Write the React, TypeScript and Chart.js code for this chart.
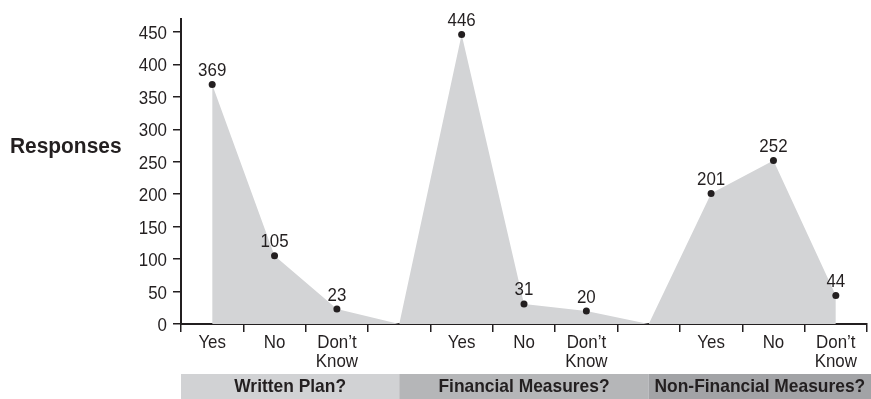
import React, { useEffect, useRef } from "react";
import { Chart, registerables } from "chart.js";

Chart.register(...registerables);

// Answers per question, with an empty separator slot between question groups
const categories: string[][] = [
  ["Yes"], ["No"], ["Don’t", "Know"], [""],
  ["Yes"], ["No"], ["Don’t", "Know"], [""],
  ["Yes"], ["No"], ["Don’t", "Know"],
];
const responses: number[] = [369, 105, 23, 0, 446, 31, 20, 0, 201, 252, 44];
const isAnswer: boolean[] = [true, true, true, false, true, true, true, false, true, true, true];
const yTickValues: number[] = [0, 50, 100, 150, 200, 250, 300, 350, 400, 450];
const groupNames: string[] = ["Written Plan?", "Financial Measures?", "Non-Financial Measures?"];
const groupColors: string[] = ["#d1d2d4", "#b5b6b8", "#a2a3a6"];

const INK = "#231f20";
const FACE = "'Liberation Sans', Arial, sans-serif";
const REG = `19px ${FACE}`;
const BOLD_TITLE = `bold 22px ${FACE}`;
const BOLD_BAND = `bold 18.5px ${FACE}`;

// Horizontally condensed text, to get a narrow grotesque look
function narrowText(
  ctx: CanvasRenderingContext2D,
  text: string,
  x: number,
  y: number,
  align: CanvasTextAlign,
  squeeze: number
) {
  ctx.save();
  ctx.translate(x, y);
  ctx.scale(squeeze, 1);
  ctx.textAlign = align;
  ctx.textBaseline = "alphabetic";
  ctx.fillText(text, 0, 0);
  ctx.restore();
}

const decorations = {
  id: "decorations",
  afterDraw(chart: any) {
    const { ctx, chartArea, scales } = chart;
    const x = scales.x;
    const y = scales.y;
    ctx.save();
    ctx.fillStyle = INK;

    // axis title, horizontal at the left
    ctx.font = BOLD_TITLE;
    narrowText(ctx, "Responses", 10, 153, "left", 0.95);

    // y tick labels
    ctx.font = REG;
    yTickValues.forEach((v) => {
      narrowText(ctx, String(v), chartArea.left - 14, y.getPixelForValue(v) + 7, "right", 0.89);
    });

    // category labels
    categories.forEach((lines, i) => {
      lines.forEach((line, k) => {
        if (!line) return;
        narrowText(ctx, line, x.getPixelForValue(i), 348 + k * 18.5, "center", 0.89);
      });
    });

    // value labels above each answer point
    responses.forEach((v, i) => {
      if (!isAnswer[i]) return;
      narrowText(ctx, String(v), x.getPixelForValue(i), y.getPixelForValue(v) - 8.5, "center", 0.89);
    });

    // question bands under the category labels
    const edges = [
      chartArea.left,
      x.getPixelForValue(3),
      x.getPixelForValue(7),
      chart.width,
    ];
    const top = 374;
    ctx.font = BOLD_BAND;
    groupNames.forEach((name, g) => {
      ctx.fillStyle = groupColors[g];
      ctx.fillRect(edges[g], top, edges[g + 1] - edges[g], chart.height - top);
      ctx.fillStyle = INK;
      narrowText(ctx, name, (edges[g] + edges[g + 1]) / 2, 391.5, "center", 0.94);
    });
    ctx.restore();
  },
};

export default function App() {
  const ref = useRef<HTMLCanvasElement | null>(null);

  useEffect(() => {
    document.body.style.margin = "0";
    const canvas = ref.current;
    if (!canvas) return;
    const chart = new Chart(canvas, {
      type: "line",
      data: {
        labels: categories.map((c) => c.join(" ")),
        datasets: [
          {
            data: responses,
            fill: "origin",
            backgroundColor: "#d3d4d6",
            borderWidth: 0,
            borderColor: "rgba(0,0,0,0)",
            tension: 0,
            pointRadius: isAnswer.map((a) => (a ? 3.5 : 0)),
            pointBackgroundColor: INK,
            pointBorderWidth: 0,
          },
        ],
      },
      options: {
        animation: false,
        responsive: true,
        maintainAspectRatio: false,
        layout: { padding: { top: 19, right: 2, left: 0, bottom: 0 } },
        plugins: {
          legend: { display: false },
          tooltip: { enabled: false },
        },
        scales: {
          x: {
            type: "category",
            offset: true,
            grid: {
              offset: true,
              drawOnChartArea: false,
              drawTicks: true,
              tickLength: 8,
              color: INK,
              lineWidth: 1.5,
            },
            border: { color: INK, width: 2 },
            ticks: {
              // labels are drawn by the decorations plugin
              color: "rgba(0,0,0,0)",
              font: { family: FACE, size: 12 },
              maxRotation: 0,
              autoSkip: false,
            },
            afterFit(scale: any) {
              scale.height = 75;
            },
          },
          y: {
            min: 0,
            max: 470,
            grid: {
              drawOnChartArea: false,
              drawTicks: true,
              tickLength: 8,
              color: INK,
              lineWidth: 1.5,
            },
            border: { color: INK, width: 2 },
            ticks: {
              color: "rgba(0,0,0,0)",
              font: { family: FACE, size: 12 },
            },
            afterBuildTicks(scale: any) {
              scale.ticks = yTickValues.map((v) => ({ value: v }));
            },
            afterFit(scale: any) {
              scale.width = 181;
            },
          },
        },
      },
      plugins: [decorations],
    });
    return () => chart.destroy();
  }, []);

  return (
    <div style={{ position: "relative", width: 871, height: 399, background: "#fff" }}>
      <canvas ref={ref} />
    </div>
  );
}
